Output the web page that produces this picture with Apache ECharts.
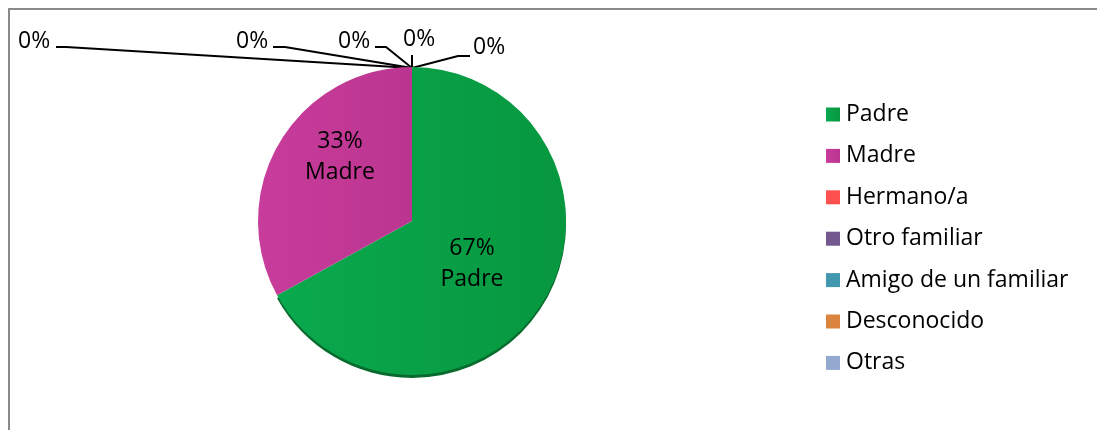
<!DOCTYPE html>
<html>
<head>
<meta charset="utf-8">
<script src="https://cdn.jsdelivr.net/npm/echarts@6/dist/echarts.min.js"></script>
<style>
  html, body { margin: 0; padding: 0; background: #fff; }
  #chart { width: 1097px; height: 430px; }
</style>
</head>
<body>
<div id="chart"></div>
<script>
// categorias y valores (%)
const categorias = ['Padre', 'Madre', 'Hermano/a', 'Otro familiar', 'Amigo de un familiar', 'Desconocido', 'Otras']
const valores = [67, 33, 0, 0, 0, 0, 0]
const colores = ['#0aa94e', '#c83c9b', '#ff5050', '#73578f', '#4198af', '#db843d', '#93a9cf']
const coloresOscuros = ['#07973f', '#bb3590']

// posiciones de las etiquetas (como en la hoja de calculo)
const posEtiquetas = [
  { x: 472, y: 264, align: 'center' },
  { x: 340, y: 157, align: 'center' },
  { x: 18, y: 41, align: 'left', line: [[412, 68], [66, 47], [56, 47]] },
  { x: 236, y: 41, align: 'left', line: [[412, 68], [285, 47], [273, 47]] },
  { x: 338, y: 41, align: 'left', line: [[412, 68], [386, 47], [375, 47]] },
  { x: 403, y: 39, align: 'left', line: [[412, 68], [412, 62], [412, 55]] },
  { x: 473, y: 47, align: 'left', line: [[412, 68], [458, 56], [470, 56]] }
]

const fuente = 'Open Sans'
const tamFuente = 23

const chart = echarts.init(document.getElementById('chart'))

const datos = categorias.map((nombre, i) => {
  const item = { name: nombre, value: valores[i] }
  if (i < 2) {
    item.itemStyle = {
      color: {
        type: 'linear', x: 0, y: 0, x2: 1, y2: 0,
        colorStops: [{ offset: 0, color: colores[i] }, { offset: 1, color: coloresOscuros[i] }]
      }
    }
    if (i === 0) {
      item.itemStyle.shadowColor = '#086b2e'
      item.itemStyle.shadowOffsetY = 3
      item.itemStyle.shadowBlur = 0
    }
  } else {
    item.itemStyle = { color: colores[i] }
    item.label = { position: 'outside', formatter: '{d}%' }
    item.labelLine = { show: true }
  }
  return item
})

const option = {
  animation: false,
  backgroundColor: '#fff',
  textStyle: { fontFamily: fuente },
  graphic: [{
    type: 'rect',
    shape: { x: 9, y: 9, width: 1100, height: 440 },
    style: { fill: 'none', stroke: '#8a8a8a', lineWidth: 2 },
    z: 10
  }],
  legend: {
    orient: 'vertical',
    left: 821,
    top: 98,
    icon: 'rect',
    itemWidth: 14,
    itemHeight: 14,
    itemGap: 18.4,
    textStyle: { fontFamily: fuente, fontSize: tamFuente, color: '#000', padding: [0, 0, 0, 1] },
    data: categorias
  },
  series: [{
    type: 'pie',
    center: [412, 221],
    radius: 154,
    startAngle: 90,
    clockwise: true,
    avoidLabelOverlap: false,
    label: {
      position: 'inside',
      formatter: '{d}%\n{b}',
      fontFamily: fuente,
      fontSize: tamFuente,
      lineHeight: 31,
      color: '#000'
    },
    labelLine: {
      show: false,
      lineStyle: { color: '#000', width: 2 }
    },
    emphasis: { disabled: true },
    labelLayout: params => {
      const p = posEtiquetas[params.dataIndex]
      const r = { x: p.x, y: p.y, align: p.align, verticalAlign: 'middle' }
      if (p.line) r.labelLinePoints = p.line
      return r
    },
    data: datos
  }]
}

chart.setOption(option)
</script>
</body>
</html>
